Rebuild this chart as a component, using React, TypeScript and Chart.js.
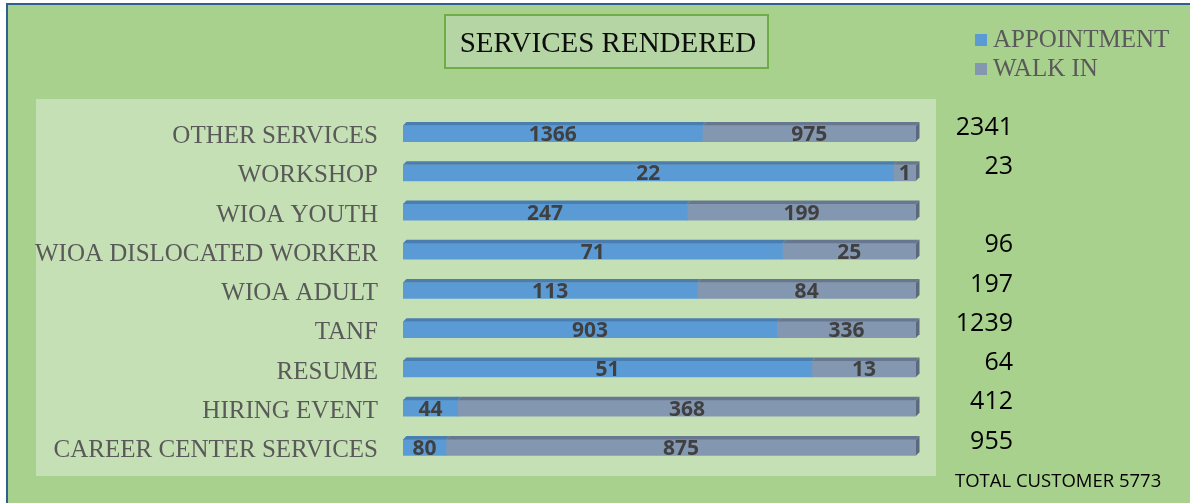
import React, { useEffect, useRef } from "react";
import { Chart, registerables } from "chart.js";

Chart.register(...registerables);

const categories = [
  "OTHER SERVICES",
  "WORKSHOP",
  "WIOA YOUTH",
  "WIOA DISLOCATED WORKER",
  "WIOA ADULT",
  "TANF",
  "RESUME",
  "HIRING EVENT",
  "CAREER CENTER SERVICES",
];
const appointment = [1366, 22, 247, 71, 113, 903, 51, 44, 80];
const walkIn = [975, 1, 199, 25, 84, 336, 13, 368, 875];
const totalLabels = ["2341", "23", "", "96", "197", "1239", "64", "412", "955"];
const totalCustomer = "TOTAL CUSTOMER 5773";
const titleText = "SERVICES RENDERED";
const seriesNames = ["APPOINTMENT", "WALK IN"];

const FRONT = ["#5B9BD5", "#8497B0"];
const TOP = ["#4A7DB0", "#67778F"];
const SIDE = "#5C6A7F";
const SERIF = "'Liberation Serif', 'Times New Roman', serif";
const SANS = "'Open Sans', 'Liberation Sans', sans-serif";

export default function App() {
  const ref = useRef<HTMLCanvasElement | null>(null);

  useEffect(() => {
    document.body.style.margin = "0";
    const canvas = ref.current;
    if (!canvas) return;
    const totals = appointment.map((a, i) => a + walkIn[i]);
    const raw = [appointment, walkIn];

    const decor = {
      id: "decor",
      beforeDraw(chart: any) {
        const ctx = chart.ctx;
        const W = chart.width;
        const H = chart.height;
        ctx.save();
        ctx.fillStyle = "#FFFFFF";
        ctx.fillRect(0, 0, W, H);
        ctx.fillStyle = "#A9D18E";
        ctx.fillRect(6, 3, W - 6, H - 3);
        ctx.strokeStyle = "#2F5F8F";
        ctx.lineWidth = 2;
        ctx.beginPath();
        ctx.moveTo(7, H);
        ctx.lineTo(7, 4);
        ctx.lineTo(W, 4);
        ctx.stroke();
        // plot panel
        ctx.fillStyle = "#C5E0B4";
        ctx.fillRect(36, 99, 900, 377);
        // title box
        ctx.fillStyle = "#B6D5A4";
        ctx.fillRect(445, 15, 323, 53);
        ctx.strokeStyle = "#70AD47";
        ctx.lineWidth = 2;
        ctx.strokeRect(445, 15, 323, 53);
        ctx.fillStyle = "#0D0D0D";
        ctx.font = `29px ${SERIF}`;
        ctx.textAlign = "center";
        ctx.textBaseline = "alphabetic";
        ctx.fillText(titleText, 608, 52);
        // legend
        ctx.textAlign = "left";
        ctx.font = `25px ${SERIF}`;
        seriesNames.forEach((name, i) => {
          const y = 47 + i * 29;
          ctx.fillStyle = FRONT[i];
          ctx.fillRect(975, y - 13, 12, 12);
          ctx.fillStyle = "#595959";
          ctx.fillText(name, 993, y);
        });
        ctx.restore();
      },
      afterDatasetsDraw(chart: any) {
        const ctx = chart.ctx;
        const d = 3.5;
        ctx.save();
        const nSets = chart.data.datasets.length;
        for (let di = 0; di < nSets; di++) {
          const meta = chart.getDatasetMeta(di);
          meta.data.forEach((el: any) => {
            const p = el.getProps(["x", "y", "base", "height"], true);
            const left = Math.min(p.x, p.base);
            const right = Math.max(p.x, p.base);
            const top = p.y - p.height / 2;
            const bottom = p.y + p.height / 2;
            ctx.fillStyle = TOP[di];
            ctx.beginPath();
            ctx.moveTo(left, top);
            ctx.lineTo(left + d, top - d);
            ctx.lineTo(right + d, top - d);
            ctx.lineTo(right, top);
            ctx.closePath();
            ctx.fill();
            if (di === nSets - 1) {
              ctx.fillStyle = SIDE;
              ctx.beginPath();
              ctx.moveTo(right, top);
              ctx.lineTo(right + d, top - d);
              ctx.lineTo(right + d, bottom - d);
              ctx.lineTo(right, bottom);
              ctx.closePath();
              ctx.fill();
            }
          });
        }
        // data labels
        ctx.font = `bold 21px ${SANS}`;
        ctx.fillStyle = "#404040";
        ctx.textAlign = "center";
        ctx.textBaseline = "middle";
        for (let di = 0; di < nSets; di++) {
          const meta = chart.getDatasetMeta(di);
          meta.data.forEach((el: any, i: number) => {
            const p = el.getProps(["x", "y", "base"], true);
            ctx.fillText(String(raw[di][i]), (p.x + p.base) / 2, p.y + 1.5);
          });
        }
        // totals
        ctx.font = `25px ${SANS}`;
        ctx.fillStyle = "#000000";
        ctx.textAlign = "right";
        const meta0 = chart.getDatasetMeta(0);
        meta0.data.forEach((el: any, i: number) => {
          if (!totalLabels[i]) return;
          ctx.fillText(totalLabels[i], 1013, el.y - 6);
        });
        ctx.font = `18.5px ${SANS}`;
        ctx.textAlign = "left";
        ctx.fillText(totalCustomer, 955, 482);
        ctx.restore();
      },
    };

    const chart = new Chart(canvas, {
      type: "bar",
      data: {
        labels: categories,
        datasets: [
          {
            label: seriesNames[0],
            data: appointment.map((v, i) => (v / totals[i]) * 100),
            backgroundColor: FRONT[0],
            borderWidth: 0,
            barThickness: 16,
          },
          {
            label: seriesNames[1],
            data: walkIn.map((v, i) => (v / totals[i]) * 100),
            backgroundColor: FRONT[1],
            borderWidth: 0,
            barThickness: 16,
          },
        ],
      },
      options: {
        indexAxis: "y",
        responsive: false,
        animation: false,
        devicePixelRatio: 1,
        layout: { padding: { left: 0, right: 274, top: 114, bottom: 36 } },
        plugins: {
          legend: { display: false },
          title: { display: false },
          tooltip: { enabled: false },
        },
        scales: {
          x: { stacked: true, min: 0, max: 100, display: false },
          y: {
            stacked: true,
            grid: { display: false, drawTicks: false },
            border: { display: false },
            ticks: {
              color: "#595959",
              font: { family: SERIF, size: 25 },
              padding: 25,
              labelOffset: 3,
            },
            afterFit(scale: any) {
              scale.width = 403;
              scale.paddingTop = 0;
              scale.paddingBottom = 0;
            },
          },
        },
      },
      plugins: [decor],
    } as any);
    return () => chart.destroy();
  }, []);

  return (
    <div style={{ width: 1190, height: 503 }}>
      <canvas ref={ref} width={1190} height={503} style={{ display: "block" }} />
    </div>
  );
}
